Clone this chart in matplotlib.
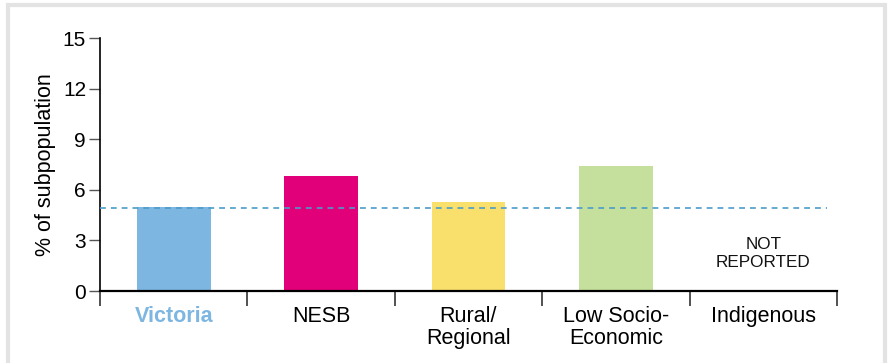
import matplotlib.pyplot as plt
from matplotlib.patches import Rectangle

plt.rcParams['font.family'] = ['Liberation Sans', 'DejaVu Sans']

# data
categories = ["Victoria", "NESB", "Rural/\nRegional", "Low Socio-\nEconomic", "Indigenous"]
values = [5.0, 6.8, 5.3, 7.4, None]
colors = ["#7DB6E1", "#E2007A", "#F9DF6B", "#C5E09C", "#FFFFFF"]
victoria_level = 4.95
yticks = [0, 3, 6, 9, 12, 15]

fig = plt.figure(figsize=(8.92, 3.63), dpi=100)
fig.patches.append(Rectangle((0.009, -0.05), 0.983, 1.035, transform=fig.transFigure,
                             fill=False, edgecolor="#E3E3E3", linewidth=3))
ax = fig.add_axes([0.1121, 0.1983, 0.8262, 0.697])

for i, (v, c) in enumerate(zip(values, colors)):
    if v is not None:
        ax.bar(i, v, width=0.5, color=c, zorder=2)
    else:
        ax.text(i, 2.2, "NOT\nREPORTED", ha="center", va="center", fontsize=12.3,
                color="#111111", linespacing=1.25)

ax.plot([-0.5, 4.43], [victoria_level, victoria_level], linestyle=(0, (3.5, 3)),
        color="#4A9CC9", linewidth=1.2, zorder=3)

ax.set_xlim(-0.5, 4.5)
ax.set_ylim(0, 15)
ax.set_yticks(yticks)
ax.set_yticklabels([str(t) for t in yticks], fontsize=15)
ax.set_ylabel("% of subpopulation", fontsize=15.5, labelpad=5)

ax.set_xticks(range(len(categories)))
ax.set_xticklabels(categories, fontsize=15.5, linespacing=1.05)
ax.set_xticks([i - 0.5 for i in range(len(categories) + 1)], minor=True)
ax.tick_params(axis="x", which="major", length=0, pad=11)
ax.tick_params(axis="x", which="minor", length=11, width=1.2, color="#333333")
ax.tick_params(axis="y", length=8, width=1, color="#555555", pad=2)
ax.get_xticklabels()[0].set_color("#7DB6E1")
ax.get_xticklabels()[0].set_fontweight("bold")

for s in ["top", "right"]:
    ax.spines[s].set_visible(False)
ax.spines["left"].set_linewidth(1.2)
ax.spines["bottom"].set_linewidth(1.6)

fig.savefig("out.png", dpi=100)
